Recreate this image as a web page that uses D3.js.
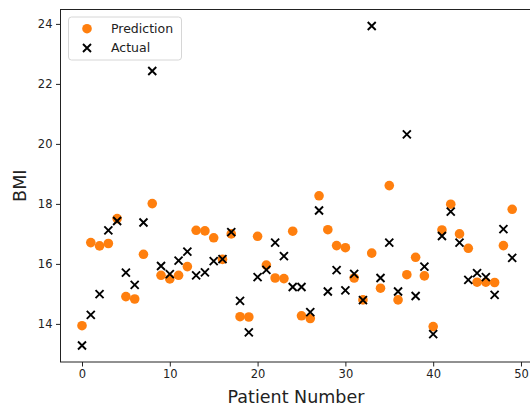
<!DOCTYPE html>
<html>
<head>
<meta charset="utf-8">
<script src="https://cdn.jsdelivr.net/npm/d3@7"></script>
<style>
  html, body { margin: 0; padding: 0; background: #fff; }
  svg { display: block; font-family: "DejaVu Sans", sans-serif; }
</style>
</head>
<body>
<div id="graph"></div>
<script>
// patient index and BMI values
var g_patients = d3.range(0, 50);

var g_prediction = [
  13.94, 16.71, 16.60, 16.68, 17.51, 14.91, 14.83, 16.32, 18.01, 15.62,
  15.50, 15.62, 15.91, 17.12, 17.10, 16.87, 16.15, 17.00, 14.24, 14.23,
  16.92, 15.96, 15.53, 15.51, 17.09, 14.27, 14.18, 18.27, 17.14, 16.61,
  16.54, 15.53, 14.80, 16.36, 15.19, 18.61, 14.80, 15.64, 16.22, 15.60,
  13.91, 17.13, 17.99, 17.00, 16.52, 15.39, 15.39, 15.38, 16.61, 17.82
];

var g_actual = [
  13.28, 14.30, 14.99, 17.12, 17.43, 15.71, 15.30, 17.38, 22.43, 15.93,
  15.66, 16.11, 16.41, 15.62, 15.72, 16.09, 16.16, 17.06, 14.77, 13.72,
  15.56, 15.80, 16.71, 16.26, 15.23, 15.23, 14.39, 17.78, 15.08, 15.79,
  15.12, 15.67, 14.79, 23.93, 15.53, 16.71, 15.08, 20.32, 14.93, 15.91,
  13.66, 16.93, 17.74, 16.71, 15.47, 15.69, 15.56, 14.97, 17.16, 16.20
];

var g_x_ticks = [0, 10, 20, 30, 40, 50];
var g_y_ticks = [14, 16, 18, 20, 22, 24];

var g_legend = ["Prediction", "Actual"];

//----------------------------------------------------------
var g_width = 530, g_height = 407;
var g_left = 60.5, g_top = 9.5, g_right = 533.7, g_bottom = 362;

var svg = d3.select("#graph")
  .append("svg")
    .attr("width", g_width)
    .attr("height", g_height);

// matplotlib style 5% margins around the data
var x = d3.scaleLinear().domain([-2.45, 51.45]).range([g_left, g_right]);
var y = d3.scaleLinear().domain([12.73, 24.48]).range([g_bottom, g_top]);

var xAxis = svg.append("g")
    .attr("transform", "translate(0," + g_bottom + ")")
    .call(d3.axisBottom(x).tickValues(g_x_ticks).tickSize(4.5).tickPadding(3.5));

var yAxis = svg.append("g")
    .attr("transform", "translate(" + g_left + ",0)")
    .call(d3.axisLeft(y).tickValues(g_y_ticks).tickSize(4.5).tickPadding(3.5));

[xAxis, yAxis].forEach(function (ax) {
    ax.select(".domain").remove();
    ax.selectAll(".tick line").attr("stroke", "#222").attr("stroke-width", 1);
    ax.selectAll(".tick text")
        .attr("fill", "#222")
        .style("font-size", "11.5px")
        .style("font-family", "DejaVu Sans");
});

// spines
svg.append("rect")
    .attr("x", g_left)
    .attr("y", g_top)
    .attr("width", g_right - g_left)
    .attr("height", g_bottom - g_top)
    .attr("fill", "none")
    .attr("stroke", "#222")
    .attr("stroke-width", 1);

// prediction dots
svg.append("g")
  .selectAll("circle")
  .data(g_patients)
  .join("circle")
    .attr("cx", function (i) { return x(i); })
    .attr("cy", function (i) { return y(g_prediction[i]); })
    .attr("r", 4.8)
    .attr("fill", "#ff7f0e");

// actual crosses
function Cross(sel, s) {
    sel.attr("d", "M" + (-s) + "," + (-s) + "L" + s + "," + s +
                  "M" + (-s) + "," + s + "L" + s + "," + (-s))
       .attr("stroke", "#000")
       .attr("stroke-width", 1.9)
       .attr("fill", "none");
}

svg.append("g")
  .selectAll("path")
  .data(g_patients)
  .join("path")
    .attr("transform", function (i) {
        return "translate(" + x(i) + "," + y(g_actual[i]) + ")";
    })
    .call(Cross, 4);

// axis labels
svg.append("text")
    .attr("x", 296)
    .attr("y", 403)
    .attr("text-anchor", "middle")
    .attr("fill", "#222")
    .style("font-size", "17.5px")
    .text("Patient Number");

svg.append("text")
    .attr("transform", "translate(26," + ((g_top + g_bottom) / 2) + ") rotate(-90)")
    .attr("text-anchor", "middle")
    .attr("fill", "#222")
    .style("font-size", "17.5px")
    .text("BMI");

// legend
var legend = svg.append("g");
legend.append("rect")
    .attr("x", 68.5)
    .attr("y", 17)
    .attr("width", 113)
    .attr("height", 43)
    .attr("rx", 3)
    .attr("fill", "#fff")
    .attr("fill-opacity", 0.8)
    .attr("stroke", "#d6d6d6")
    .attr("stroke-width", 1);

var rows = legend.selectAll("g.row")
  .data(g_legend)
  .join("g")
    .attr("class", "row")
    .attr("transform", function (d, i) {
        return "translate(87," + (28.7 + i * 19.3) + ")";
    });

rows.filter(function (d, i) { return i === 0; })
  .append("circle")
    .attr("r", 4.8)
    .attr("fill", "#ff7f0e");

rows.filter(function (d, i) { return i === 1; })
  .append("path")
    .call(Cross, 4);

rows.append("text")
    .attr("x", 24)
    .attr("dy", "0.35em")
    .attr("fill", "#222")
    .style("font-size", "12.5px")
    .text(function (d) { return d; });
</script>
</body>
</html>
